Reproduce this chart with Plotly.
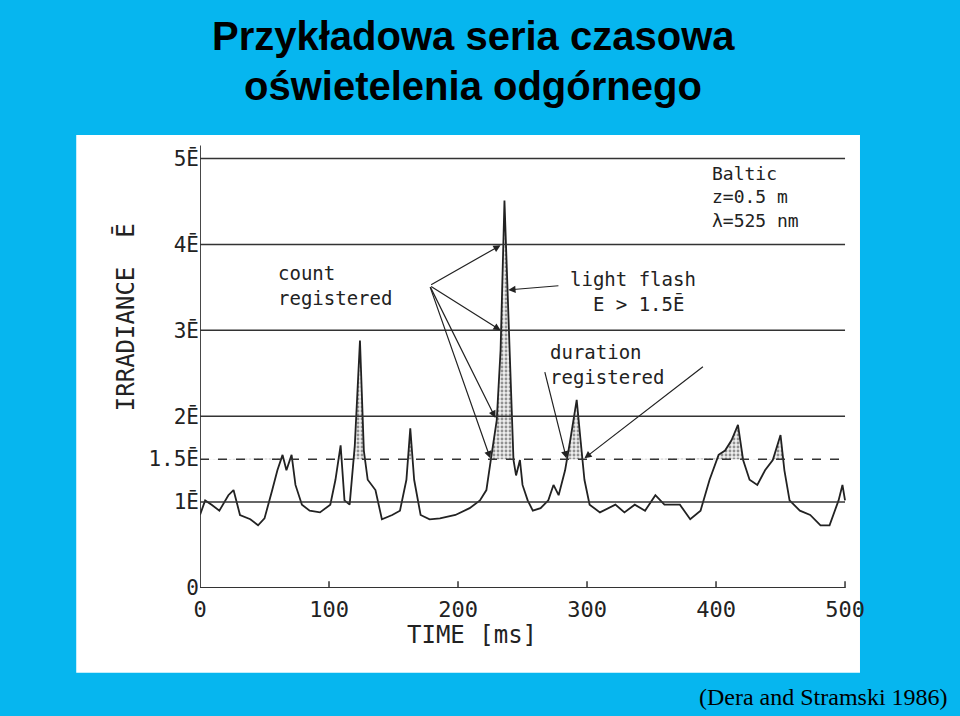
import numpy as np
import plotly.graph_objects as go

time_ms = [0,4,9,15,22,26,31,39,45,50,56,60,64,67,71,74,79,85,93,101,105,109,112,116,120,124,127,130,136,141,149,155,160,163,166,171,178,186,198,209,217,222,226,230,233,236,240,243,245,248,250,254,258,264,270,274,278,283,287,292,295,298,302,310,322,329,337,345,353,360,372,380,388,395,402,407,412,417,421,426,432,438,444,450,453,457,465,473,481,488,495,498,500]
irr = [0.85,1.02,0.97,0.9,1.08,1.14,0.85,0.8,0.73,0.81,1.14,1.37,1.55,1.37,1.55,1.2,0.97,0.9,0.88,0.97,1.26,1.66,1.02,0.97,1.66,2.88,1.6,1.26,1.14,0.8,0.85,0.9,1.26,1.86,1.26,0.85,0.8,0.81,0.85,0.93,1.02,1.14,1.55,1.95,2.77,4.51,2.77,1.49,1.31,1.49,1.2,1.02,0.9,0.93,1.02,1.2,1.08,1.37,1.72,2.19,1.72,1.26,0.97,0.88,0.97,0.88,0.97,0.9,1.08,0.97,0.97,0.8,0.9,1.26,1.55,1.6,1.72,1.9,1.49,1.26,1.2,1.37,1.49,1.78,1.37,1.02,0.9,0.85,0.73,0.73,1.02,1.2,1.02]
threshold = 1.5
grid_levels = [1, 2, 3, 4, 5]
y_tick_vals = [0, 1, 1.5, 2, 3, 4, 5]
y_tick_text = ["0", "1Ē", "1.5Ē", "2Ē", "3Ē", "4Ē", "5Ē"]
x_tick_vals = [0, 100, 200, 300, 400, 500]

td = np.linspace(0, 500, 2001)
ed = np.interp(td, time_ms, irr)
clip = np.maximum(ed, threshold)

mono = "DejaVu Sans Mono"
fig = go.Figure()
fig.add_trace(go.Scatter(x=td, y=[threshold]*len(td), mode="lines", line=dict(width=0), showlegend=False, hoverinfo="skip"))
fig.add_trace(go.Scatter(x=td, y=clip, mode="lines", line=dict(width=0), fill="tonexty",
                         fillcolor="rgba(255,255,255,0)",
                         fillpattern=dict(shape=".", fgcolor="#333", bgcolor="#eee", size=4, solidity=0.4),
                         showlegend=False, hoverinfo="skip"))
fig.add_trace(go.Scatter(x=time_ms, y=irr, mode="lines", line=dict(color="#222", width=1.8), showlegend=False))

shapes = [dict(type="rect", xref="paper", yref="paper", x0=-0.191, x1=1.0185, y0=-0.188, y1=1.0044,
               fillcolor="white", line=dict(width=0), layer="below")]
for g in grid_levels:
    shapes.append(dict(type="line", xref="x", yref="y", x0=0, x1=500, y0=g, y1=g, line=dict(color="#333", width=1.5)))
shapes.append(dict(type="line", xref="x", yref="y", x0=0, x1=500, y0=threshold, y1=threshold, line=dict(color="#333", width=1.5, dash="dash")))
shapes.append(dict(type="line", xref="x", yref="y", x0=0, x1=0, y0=0, y1=5.15, line=dict(color="#333", width=1.8)))
shapes.append(dict(type="line", xref="x", yref="y", x0=0, x1=500, y0=0, y1=0, line=dict(color="#333", width=1.8)))
for xv in x_tick_vals[1:]:
    shapes.append(dict(type="line", xref="x", yref="y", x0=xv, x1=xv, y0=0, y1=0.08, line=dict(color="#333", width=1.5)))

ann = []
def arrow(x0, y0, x1, y1):
    ann.append(dict(x=x1, y=y1, ax=x0, ay=y0, xref="x", yref="y", axref="x", ayref="y", text="",
                    showarrow=True, arrowhead=2, arrowsize=1.2, arrowwidth=1.2, arrowcolor="#222"))
for tx, ty in [(233, 3.99), (233, 3.0), (229, 1.98), (225, 1.51)]:
    arrow(178, 3.52, tx, ty)
arrow(279, 3.52, 239, 3.47)
arrow(267, 2.53, 284, 1.51)
arrow(391, 2.59, 298, 1.51)

def txt(x, y, s, size=19, anchor="center"):
    ann.append(dict(x=x, y=y, xref="x", yref="y", text=s, showarrow=False, xanchor=anchor,
                    font=dict(family=mono, size=size, color="#222"), align="left"))
txt(105, 3.52, "count<br>registered")
txt(285, 3.45, "light flash<br>  E > 1.5Ē", anchor="left")
txt(270, 2.60, "duration<br>registered", anchor="left")
txt(395, 4.55, "Baltic<br>z=0.5 m<br>λ=525 nm", anchor="left", size=18)

ann.append(dict(x=0.42, y=-0.14, xref="paper", yref="paper", text="TIME [ms]", showarrow=False,
                font=dict(family=mono, size=24, color="#222")))
ann.append(dict(x=-0.14, y=0.6, xref="paper", yref="paper", text="IRRADIANCE  Ē", showarrow=False, textangle=-90,
                font=dict(family=mono, size=24, color="#222")))

def page_text(px, py, s, font, anchor="center"):
    ann.append(dict(x=(px - 200) / 648, y=(588 - py) / 451, xref="paper", yref="paper", text=s,
                    showarrow=False, xanchor=anchor, yanchor="middle", font=font))
page_text(473, 36, "<b>Przykładowa seria czasowa</b>", dict(family="Liberation Sans", size=40, color="black"))
page_text(473, 86, "<b>oświetelenia odgórnego</b>", dict(family="Liberation Sans", size=40, color="black"))
page_text(950, 697, "(Dera and Stramski 1986)", dict(family="Liberation Serif", size=24, color="black"), anchor="right")

fig.update_layout(
    width=960, height=716, margin=dict(l=200, r=112, t=137, b=128),
    paper_bgcolor="#06b6ef", plot_bgcolor="rgba(0,0,0,0)",
    xaxis=dict(range=[0, 502.3], tickvals=x_tick_vals, showgrid=False, zeroline=False, showline=False,
               ticks="", ticklabelstandoff=6, tickfont=dict(family=mono, size=22, color="#222")),
    yaxis=dict(range=[0, 5.25], tickvals=y_tick_vals, ticktext=y_tick_text, showgrid=False, zeroline=False,
               showline=False, ticks="", tickfont=dict(family=mono, size=21, color="#222")),
    shapes=shapes, annotations=ann,
)
fig.write_html("out.html", config={"displayModeBar": False},
               post_script="document.body.style.margin='0';document.body.style.overflow='hidden';")
